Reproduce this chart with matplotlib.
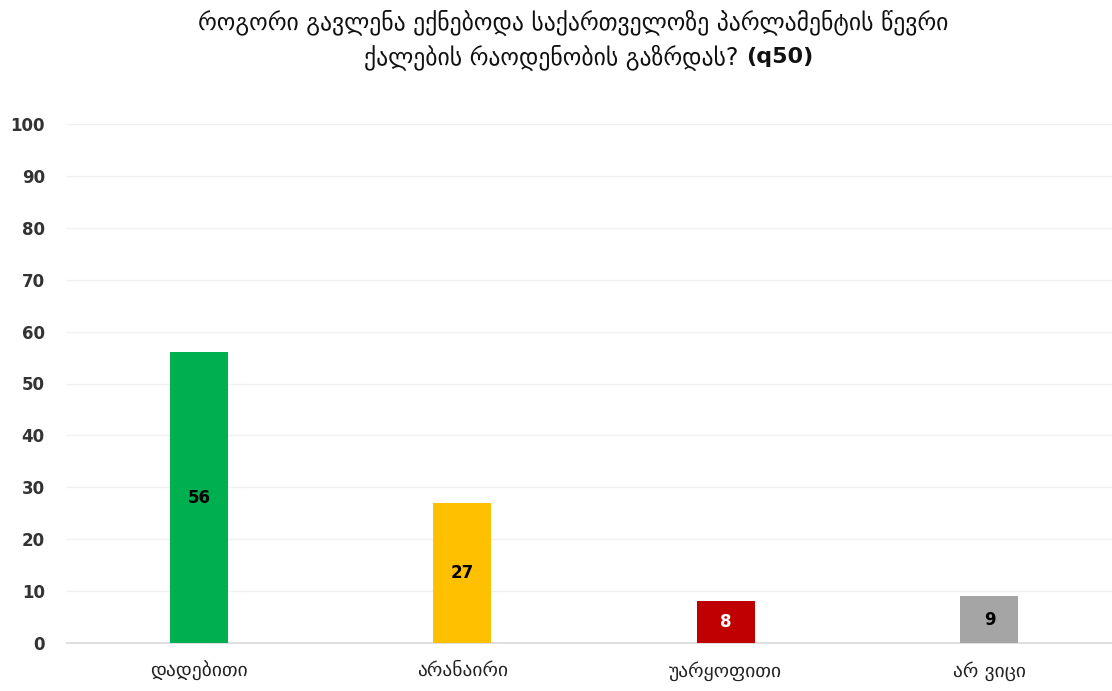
import matplotlib
matplotlib.use("Agg")
import matplotlib.pyplot as plt

categories = ["დადებითი", "არანაირი", "უარყოფითი", "არ ვიცი"]
values = [56, 27, 8, 9]
bar_colors = ["#00B050", "#FFC000", "#C00000", "#A5A5A5"]
label_colors = ["#000000", "#000000", "#FFFFFF", "#000000"]
yticks = [0, 10, 20, 30, 40, 50, 60, 70, 80, 90, 100]

plt.rcParams['font.family'] = ['DejaVu Sans']

fig = plt.figure(figsize=(11.12, 6.91), dpi=100)
ax = fig.add_axes([67/1112, 1 - 643/691, (1112 - 67)/1112, (643 - 124)/691])

x = list(range(len(categories)))
bars = ax.bar(x, values, width=0.22, color=bar_colors, zorder=3)
for xi, v, lc in zip(x, values, label_colors):
    ax.text(xi, v / 2, str(v), ha='center', va='center', fontsize=12,
            fontweight='bold', color=lc, zorder=4)

ax.set_xlim(-0.5, 3.465)
ax.set_ylim(0, 100)
ax.set_yticks(yticks)
ax.set_yticklabels([str(t) for t in yticks], fontsize=12, fontweight='bold', color='#333333')
ax.set_xticks(x)
ax.set_xticklabels(categories, fontsize=14, color='#222222')
ax.tick_params(axis='both', length=0)
ax.tick_params(axis='y', pad=16)
ax.tick_params(axis='x', pad=13)
ax.grid(axis='y', color='#F0F0F0', linewidth=1, zorder=0)
for s in ['top', 'right', 'left']:
    ax.spines[s].set_visible(False)
ax.spines['bottom'].set_color('#D9D9D9')
ax.spines['bottom'].set_linewidth(1.2)

fig.text(573/1112, 1 - 22/691, "როგორი გავლენა ექნებოდა საქართველოზე პარლამენტის წევრი",
         ha='center', va='center', fontsize=17, color='#111111')
t1 = fig.text(555/1112, 1 - 57/691, "ქალების რაოდენობის გაზრდას? ",
              ha='center', va='center', fontsize=17, color='#111111')
fig.canvas.draw()
bb = t1.get_window_extent()
fig.text(bb.x1 / fig.bbox.width, 1 - 57/691, "(q50)", ha='left', va='center',
         fontsize=16, fontweight='bold', color='#111111')

fig.savefig("out.png", dpi=100)
